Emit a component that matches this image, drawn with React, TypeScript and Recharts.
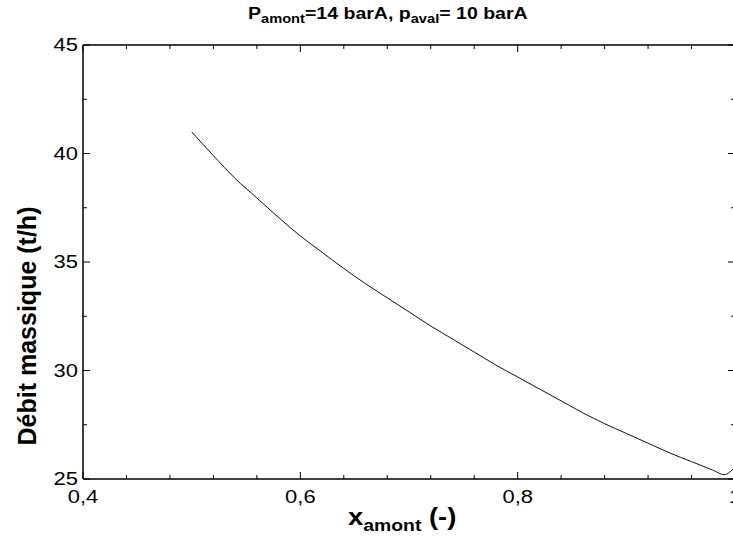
import React from 'react';
import { LineChart, Line, XAxis, YAxis } from 'recharts';

// Débit massique vs titre amont, Pamont = 14 barA, paval = 10 barA
const xAmont = [
  0.5, 0.52, 0.54, 0.56, 0.58, 0.6, 0.62, 0.64, 0.66, 0.68, 0.7, 0.72, 0.74, 0.76,
  0.78, 0.8, 0.82, 0.84, 0.86, 0.88, 0.9, 0.92, 0.94, 0.96, 0.98, 0.99, 1.0,
];
const debit = [
  41.0, 39.9, 38.85, 37.95, 37.05, 36.2, 35.45, 34.7, 34.0, 33.35, 32.7, 32.05, 31.45,
  30.85, 30.25, 29.7, 29.15, 28.6, 28.05, 27.55, 27.1, 26.65, 26.2, 25.8, 25.4, 25.2, 25.55,
];

const xTicks = [0.4, 0.44, 0.48, 0.52, 0.56, 0.6, 0.64, 0.68, 0.72, 0.76, 0.8, 0.84, 0.88, 0.92, 0.96, 1.0];
const xMajor = [0.4, 0.6, 0.8, 1.0];
const yTicks = [25, 27.5, 30, 32.5, 35, 37.5, 40, 42.5, 45];
const yMajor = [25, 30, 35, 40, 45];

const data = xAmont.map((x, i) => ({ x, debit: debit[i] }));

const FONT = '"Liberation Sans", Arial, sans-serif';
const fmt = (v: number) => String(v).replace('.', ',');

// the original figure is a bit stretched horizontally
const SX = 1.22;

// ticks point inwards, labels only on major ticks
const BottomTick = (props: any) => {
  const { x, y, payload } = props;
  const major = xMajor.includes(payload.value);
  return (
    <g>
      <line x1={x} y1={y} x2={x} y2={y - (major ? 7 : 4)} stroke="#000" strokeWidth={1} />
      {major && (
        <text
          transform={`translate(${x},${y + 24}) scale(${SX},1)`}
          textAnchor="middle"
          fontSize={18}
          fontFamily={FONT}
          fill="#000"
        >
          {fmt(payload.value)}
        </text>
      )}
    </g>
  );
};

const TopTick = (props: any) => {
  const { x, y, payload } = props;
  const major = xMajor.includes(payload.value);
  return <line x1={x} y1={y} x2={x} y2={y + (major ? 7 : 4)} stroke="#000" strokeWidth={1} />;
};

const LeftTick = (props: any) => {
  const { x, y, payload } = props;
  const major = yMajor.includes(payload.value);
  return (
    <g>
      <line x1={x} y1={y} x2={x + (major ? 7 : 4)} y2={y} stroke="#000" strokeWidth={1} />
      {major && (
        <text
          transform={`translate(${x - 5},${y + 6}) scale(${SX},1)`}
          textAnchor="end"
          fontSize={18}
          fontFamily={FONT}
          fill="#000"
        >
          {payload.value}
        </text>
      )}
    </g>
  );
};

const RightTick = (props: any) => {
  const { x, y, payload } = props;
  const major = yMajor.includes(payload.value);
  return <line x1={x} y1={y} x2={x - (major ? 7 : 4)} y2={y} stroke="#000" strokeWidth={1} />;
};

export default function App() {
  return (
    <div
      style={{
        position: 'absolute',
        left: 0,
        top: 0,
        width: 733,
        height: 542,
        overflow: 'hidden',
        background: '#fff',
        fontFamily: FONT,
      }}
    >
      <LineChart width={760} height={542} data={data} margin={{ top: 44, right: 24, bottom: 0, left: 0 }}>
        <XAxis
          dataKey="x"
          type="number"
          domain={[0.4, 1]}
          ticks={xTicks}
          allowDataOverflow
          height={63}
          tickSize={0}
          tickMargin={0}
          tickLine={false}
          tick={<BottomTick />}
          interval={0}
          axisLine={{ stroke: '#000', strokeWidth: 1.5 }}
        />
        <XAxis
          xAxisId="top"
          orientation="top"
          dataKey="x"
          type="number"
          domain={[0.4, 1]}
          ticks={xTicks}
          allowDataOverflow
          height={1}
          tickSize={0}
          tickMargin={0}
          tickLine={false}
          tick={<TopTick />}
          interval={0}
          axisLine={{ stroke: '#000', strokeWidth: 1.5 }}
        />
        <YAxis
          type="number"
          domain={[25, 45]}
          ticks={yTicks}
          allowDataOverflow
          width={83}
          tickSize={0}
          tickMargin={0}
          tickLine={false}
          tick={<LeftTick />}
          interval={0}
          axisLine={{ stroke: '#000', strokeWidth: 1.5 }}
        />
        <YAxis
          yAxisId="right"
          orientation="right"
          type="number"
          domain={[25, 45]}
          ticks={yTicks}
          allowDataOverflow
          width={1}
          tickSize={0}
          tickMargin={0}
          tickLine={false}
          tick={<RightTick />}
          interval={0}
          axisLine={{ stroke: '#000', strokeWidth: 1.5 }}
        />
        <Line
          type="monotone"
          dataKey="debit"
          stroke="#111"
          strokeWidth={1}
          dot={false}
          isAnimationActive={false}
        />
      </LineChart>

      <div
        style={{
          position: 'absolute',
          left: 248,
          top: 5,
          fontSize: 16,
          lineHeight: '18px',
          fontWeight: 'bold',
          whiteSpace: 'nowrap',
          color: '#000',
          transform: `scale(${SX},1)`,
          transformOrigin: 'left top',
        }}
      >
        P<sub style={{ fontSize: 12, lineHeight: 0 }}>amont</sub>=14 barA, p
        <sub style={{ fontSize: 12, lineHeight: 0 }}>aval</sub>= 10 barA
      </div>

      <div
        style={{
          position: 'absolute',
          left: 348,
          top: 503,
          fontSize: 24,
          lineHeight: '28px',
          fontWeight: 'bold',
          whiteSpace: 'nowrap',
          color: '#000',
          transform: 'scale(1.14,1)',
          transformOrigin: 'left top',
        }}
      >
        x<sub style={{ fontSize: 17, lineHeight: 0 }}>amont</sub> (-)
      </div>

      <div
        style={{
          position: 'absolute',
          left: 27,
          top: 326,
          transform: 'translate(-50%, -50%) rotate(-90deg)',
          fontSize: 25,
          lineHeight: '28px',
          fontWeight: 'bold',
          whiteSpace: 'nowrap',
          color: '#000',
        }}
      >
        Débit massique (t/h)
      </div>
    </div>
  );
}
